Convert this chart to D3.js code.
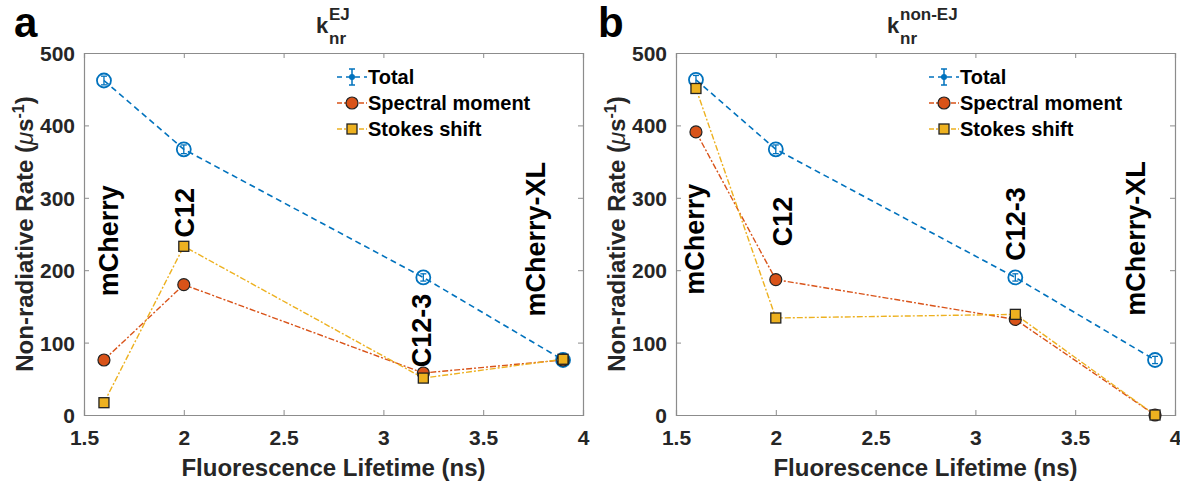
<!DOCTYPE html>
<html><head><meta charset="utf-8">
<script src="https://cdn.jsdelivr.net/npm/d3@7"></script>
<style>
body{margin:0;background:#fff;}
text{font-family:"Liberation Sans",Arial,sans-serif;font-weight:bold;}
</style></head>
<body><svg id="chart" width="1180" height="481"></svg>
<script>
// ---- data ----
const lifetimes = [1.6, 2, 3.2, 3.9];
const proteins = ["mCherry", "C12", "C12-3", "mCherry-XL"];
const seriesNames = ["Total", "Spectral moment", "Stokes shift"];
const xTicks = [1.5, 2, 2.5, 3, 3.5, 4];
const yTicks = [0, 100, 200, 300, 400, 500];

const ejTotal = [462, 367, 190, 76];
const ejTotalErr = [6, 6, 5, 5];
const ejSpectral = [76, 180, 58, 76];
const ejStokes = [17, 233, 51, 77];

const nonEjTotal = [463, 367, 190, 76];
const nonEjTotalErr = [6, 6, 5, 5];
const nonEjSpectral = [391, 187, 132, 0];
const nonEjStokes = [451, 134, 139, 0];

// annotation anchors (data coords, bottom of rotated text)
const ejLabelPos = [[1.62, 164], [2.0, 245], [3.19, 66], [3.76, 136]];
const nonEjLabelPos = [[1.59, 166], [2.03, 233], [3.2, 213], [3.80, 137]];

const colors = {total: "#0072BD", spectral: "#D95319", stokes: "#EDB120"};
const svg = d3.select("#chart");

function drawPanel(opt) {
  const {left, right, top, bottom} = opt;
  const x = d3.scaleLinear().domain([1.5, 4]).range([left, right]);
  const y = d3.scaleLinear().domain([0, 500]).range([bottom, top]);
  const g = svg.append("g");

  // axes
  const axCol = "#8c8c8c", txtCol = "#262626";
  const axB = g.append("g").attr("transform", `translate(0,${bottom})`)
    .call(d3.axisBottom(x).tickValues(xTicks).tickSize(-5).tickPadding(12).tickFormat(d3.format("~g")));
  const axT = g.append("g").attr("transform", `translate(0,${top})`)
    .call(d3.axisTop(x).tickValues(xTicks).tickSize(-5).tickFormat(""));
  const axL = g.append("g").attr("transform", `translate(${left},0)`)
    .call(d3.axisLeft(y).tickValues(yTicks).tickSize(-5).tickPadding(9));
  const axR = g.append("g").attr("transform", `translate(${right},0)`)
    .call(d3.axisRight(y).tickValues(yTicks).tickSize(-5).tickFormat(""));
  [axB, axT, axL, axR].forEach(a => {
    a.select(".domain").attr("stroke", axCol).attr("stroke-width", 1.2);
    a.selectAll(".tick line").attr("stroke", axCol).attr("stroke-width", 1);
    a.selectAll("text").attr("fill", txtCol).style("font-size", "21px").style("font-weight", "bold")
      .style("font-family", '"Liberation Sans",Arial,sans-serif');
  });
  axB.selectAll(".tick text").attr("dy", "0.85em");
  axL.selectAll(".tick text").attr("dy", "0.36em");
  axB.selectAll(".tick").filter(d => d === 1.5 || d === 4).select("line").remove();
  axT.selectAll(".tick").filter(d => d === 1.5 || d === 4).select("line").remove();
  axL.selectAll(".tick").filter(d => d === 0 || d === 500).select("line").remove();
  axR.selectAll(".tick").filter(d => d === 0 || d === 500).select("line").remove();

  // axis labels
  g.append("text").attr("x", (left + right) / 2).attr("y", bottom + 61)
    .attr("text-anchor", "middle").attr("fill", txtCol).style("font-size", "24px")
    .text("Fluorescence Lifetime (ns)");
  const yl = g.append("text").attr("transform", `translate(${left - 51},${(top + bottom) / 2}) rotate(-90)`)
    .attr("text-anchor", "middle").attr("fill", txtCol).style("font-size", "24px");
  yl.append("tspan").text("Non-radiative Rate (");
  yl.append("tspan").style("font-style", "italic").style("font-weight", "normal").text("μ");
  yl.append("tspan").text("s");
  yl.append("tspan").attr("dy", "-0.55em").style("font-size", "16px").text("-1");
  yl.append("tspan").attr("dy", "0.37em").text(")");

  // title
  const tx = opt.titleX;
  g.append("text").attr("x", tx).attr("y", 33).attr("fill", txtCol).style("font-size", "22px").text("k");
  g.append("text").attr("x", tx + 13).attr("y", 20).attr("fill", txtCol).style("font-size", "17px").text(opt.titleSup);
  g.append("text").attr("x", tx + 13).attr("y", 44).attr("fill", txtCol).style("font-size", "17px").text("nr");

  // panel letter
  g.append("text").attr("x", opt.letterX).attr("y", 37).attr("fill", "#000").style("font-size", "42px").text(opt.letter);

  const pts = vals => vals.map((v, i) => [lifetimes[i], v]);
  const line = d3.line().x(d => x(d[0])).y(d => y(d[1]));

  // Total
  g.append("path").datum(pts(opt.total)).attr("d", line).attr("fill", "none")
    .attr("stroke", colors.total).attr("stroke-width", 1.6).attr("stroke-dasharray", "6,4");
  opt.total.forEach((v, i) => {
    const cx = x(lifetimes[i]), e = opt.err[i];
    g.append("line").attr("x1", cx).attr("x2", cx).attr("y1", y(v - e)).attr("y2", y(v + e))
      .attr("stroke", colors.total).attr("stroke-width", 1.3);
    [v - e, v + e].forEach(w => g.append("line").attr("x1", cx - 3).attr("x2", cx + 3).attr("y1", y(w)).attr("y2", y(w))
      .attr("stroke", colors.total).attr("stroke-width", 1.3));
    g.append("circle").attr("cx", cx).attr("cy", y(v)).attr("r", 7).attr("fill", "none")
      .attr("stroke", colors.total).attr("stroke-width", 1.8);
  });

  // Spectral
  g.append("path").datum(pts(opt.spectral)).attr("d", line).attr("fill", "none")
    .attr("stroke", colors.spectral).attr("stroke-width", 1.4).attr("stroke-dasharray", "6,2,2,2");
  g.selectAll(null).data(pts(opt.spectral)).enter().append("circle")
    .attr("cx", d => x(d[0])).attr("cy", d => y(d[1])).attr("r", 6)
    .attr("fill", colors.spectral).attr("stroke", "#222").attr("stroke-width", 1.2);

  // Stokes
  g.append("path").datum(pts(opt.stokes)).attr("d", line).attr("fill", "none")
    .attr("stroke", colors.stokes).attr("stroke-width", 1.4).attr("stroke-dasharray", "6,2,2,2");
  g.selectAll(null).data(pts(opt.stokes)).enter().append("rect")
    .attr("x", d => x(d[0]) - 5).attr("y", d => y(d[1]) - 5).attr("width", 10).attr("height", 10)
    .attr("fill", colors.stokes).attr("stroke", "#222").attr("stroke-width", 1.3);

  // protein labels
  proteins.forEach((p, i) => {
    const [lx, ly] = opt.labelPos[i];
    g.append("text").attr("transform", `translate(${x(lx)},${y(ly)}) rotate(-90)`)
      .attr("dy", "0.36em").attr("fill", "#000").style("font-size", "27px").text(p);
  });

  // legend
  const lx0 = left + 253, ly0 = 77, dyL = 26;
  seriesNames.forEach((name, i) => {
    const yy = ly0 + i * dyL;
    const col = [colors.total, colors.spectral, colors.stokes][i];
    g.append("line").attr("x1", lx0).attr("x2", lx0 + 30).attr("y1", yy).attr("y2", yy)
      .attr("stroke", col).attr("stroke-width", 1.5).attr("stroke-dasharray", i === 0 ? "5,4" : "5,2,2,2");
    const mx = lx0 + 15;
    if (i === 0) {
      g.append("line").attr("x1", mx).attr("x2", mx).attr("y1", yy - 8).attr("y2", yy + 8).attr("stroke", col).attr("stroke-width", 1.5);
      [yy - 8, yy + 8].forEach(w => g.append("line").attr("x1", mx - 3).attr("x2", mx + 3).attr("y1", w).attr("y2", w).attr("stroke", col).attr("stroke-width", 1.5));
      g.append("circle").attr("cx", mx).attr("cy", yy).attr("r", 3).attr("fill", col);
    } else if (i === 1) {
      g.append("circle").attr("cx", mx).attr("cy", yy).attr("r", 6).attr("fill", col).attr("stroke", "#222").attr("stroke-width", 1.2);
    } else {
      g.append("rect").attr("x", mx - 5).attr("y", yy - 5).attr("width", 10).attr("height", 10).attr("fill", col).attr("stroke", "#222").attr("stroke-width", 1.3);
    }
    g.append("text").attr("x", lx0 + 31).attr("y", yy).attr("dy", "0.36em").attr("fill", "#000")
      .style("font-size", "20px").text(name);
  });
}

drawPanel({left: 84, right: 583, top: 53, bottom: 415, total: ejTotal, err: ejTotalErr,
  spectral: ejSpectral, stokes: ejStokes, labelPos: ejLabelPos, titleX: 316, titleSup: "EJ", letter: "a", letterX: 14});
drawPanel({left: 676, right: 1175, top: 53, bottom: 415, total: nonEjTotal, err: nonEjTotalErr,
  spectral: nonEjSpectral, stokes: nonEjStokes, labelPos: nonEjLabelPos, titleX: 887, titleSup: "non-EJ", letter: "b", letterX: 598});
</script></body></html>
